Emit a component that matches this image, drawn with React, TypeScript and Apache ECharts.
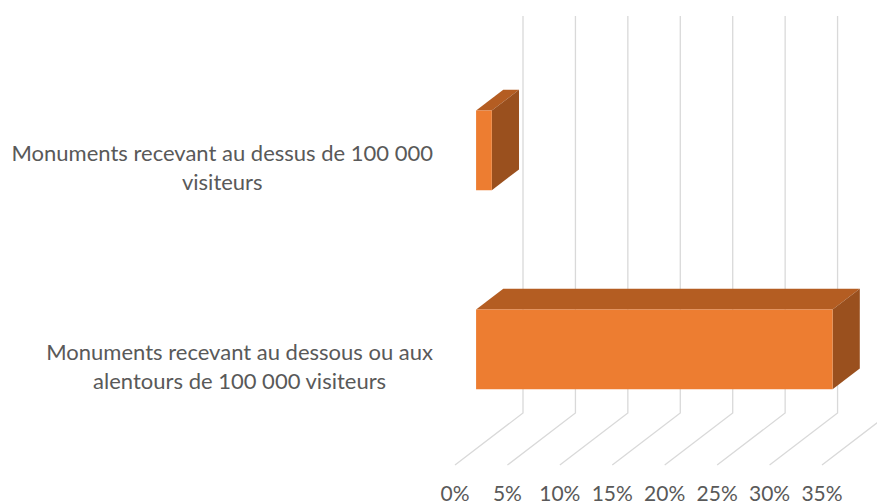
import React, { useEffect, useRef } from "react";
import * as echarts from "echarts";

const categories = [
  "Monuments recevant au dessus de 100 000\nvisiteurs",
  "Monuments recevant au dessous ou aux\nalentours de 100 000 visiteurs",
];
const shares = [1.5, 34];
const ticks = [0, 5, 10, 15, 20, 25, 30, 35];

const FONT = "Lato";
const TEXT_COLOR = "#595959";

export default function App() {
  const ref = useRef<HTMLDivElement>(null);
  useEffect(() => {
    const chart = echarts.init(ref.current!, null, { renderer: "svg" });
    const DX = 68;
    const DY = 52;
    const FRONT = 0.31;
    const DEPTH = 0.4;
    const option: any = {
      animation: false,
      backgroundColor: "#ffffff",
      grid: { left: 455, right: 55, top: 67, bottom: 39 },
      xAxis: {
        type: "value",
        min: 0,
        max: 35,
        interval: 5,
        axisLine: { show: false },
        axisTick: { show: false },
        splitLine: { show: false },
        axisLabel: {
          formatter: "{value}%",
          fontFamily: FONT,
          fontSize: 21,
          color: TEXT_COLOR,
          lineHeight: 16,
          margin: 19,
        },
      },
      yAxis: {
        type: "category",
        data: categories,
        inverse: true,
        axisLine: { show: false },
        axisTick: { show: false },
        splitLine: { show: false },
        axisLabel: {
          margin: 22,
          fontFamily: FONT,
          fontSize: 22,
          color: TEXT_COLOR,
          lineHeight: 29,
          formatter: (v: string) =>
            v
              .split("\n")
              .map((l) => `{c|${l}}`)
              .join("\n"),
          rich: {
            c: {
              align: "center",
              fontFamily: FONT,
              fontSize: 22,
              color: TEXT_COLOR,
              lineHeight: 29,
            },
          },
        },
      },
      series: [
        {
          type: "custom",
          silent: true,
          z: 1,
          data: ticks.map((t) => [t, 0]),
          encode: { x: 0, y: 1 },
          renderItem: (params: any, api: any) => {
            const x = api.coord([api.value(0), 0])[0];
            const cs = params.coordSys;
            const bottom = cs.y + cs.height;
            const top = cs.y;
            return {
              type: "polyline",
              shape: {
                points: [
                  [x, bottom],
                  [x + DX, bottom - DY],
                  [x + DX, top - DY + 1],
                ],
              },
              style: { stroke: "#D9D9D9", lineWidth: 1.3, fill: "none" },
            };
          },
        },
        {
          type: "custom",
          z: 2,
          data: shares.map((v, i) => [v, i]),
          encode: { x: 0, y: 1 },
          renderItem: (params: any, api: any) => {
            const v = api.value(0);
            const c = api.value(1);
            const p0 = api.coord([0, c]);
            const p1 = api.coord([v, c]);
            const band = api.size([0, 1])[1];
            const h = band * 0.4;
            const fx = DX * FRONT;
            const fy = DY * FRONT;
            const dx = DX * DEPTH;
            const dy = DY * DEPTH;
            const xa = p0[0] + fx;
            const xb = p1[0] + fx;
            const yt = p0[1] - fy - h / 2;
            const yb = yt + h;
            return {
              type: "group",
              children: [
                {
                  type: "polygon",
                  shape: {
                    points: [
                      [xa, yt],
                      [xb, yt],
                      [xb + dx, yt - dy],
                      [xa + dx, yt - dy],
                    ],
                  },
                  style: { fill: "#B45D22" },
                },
                {
                  type: "polygon",
                  shape: {
                    points: [
                      [xb, yt],
                      [xb + dx, yt - dy],
                      [xb + dx, yb - dy],
                      [xb, yb],
                    ],
                  },
                  style: { fill: "#9A501E" },
                },
                {
                  type: "rect",
                  shape: { x: xa, y: yt, width: xb - xa, height: h },
                  style: { fill: "#ED7D31" },
                },
              ],
            };
          },
        },
      ],
    };
    chart.setOption(option);
    return () => chart.dispose();
  }, []);
  return (
    <div
      ref={ref}
      style={{ position: "fixed", left: 0, top: 0, width: 877, height: 504 }}
    />
  );
}
